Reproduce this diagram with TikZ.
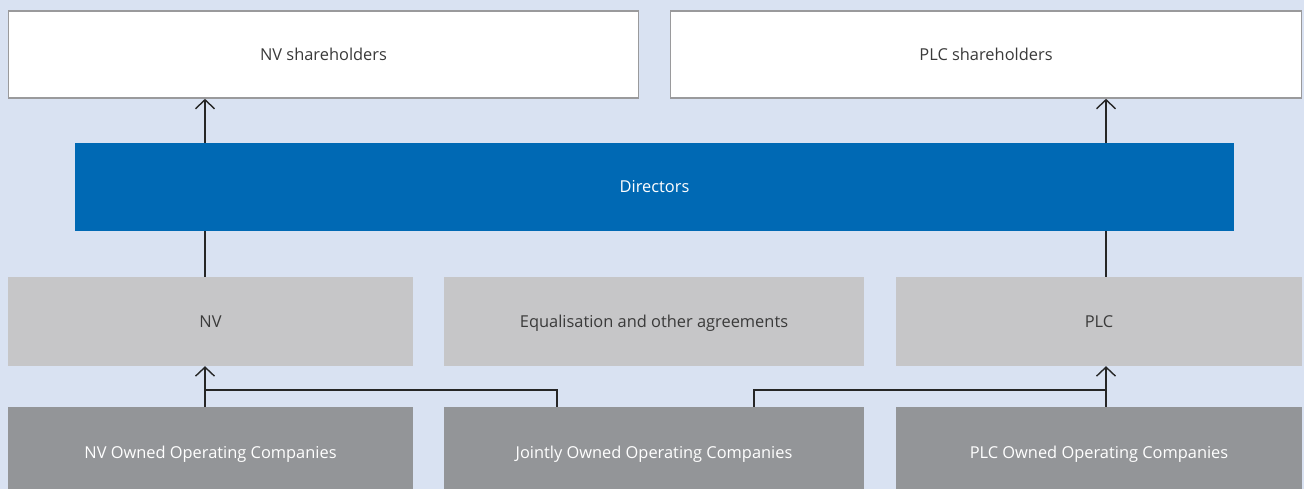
\documentclass[tikz,border=0pt]{standalone}
\usepackage{fontspec}
\setmainfont{Open Sans}
\usetikzlibrary{arrows.meta}
\definecolor{bgc}{HTML}{D9E2F2}
\definecolor{dirblue}{HTML}{0069B4}
\definecolor{midgray}{HTML}{C6C6C8}
\definecolor{darkgray}{HTML}{939598}
\definecolor{bordergray}{HTML}{9A9A9C}
\definecolor{txt}{HTML}{3A3A3A}
\tikzset{
  box/.style={minimum height=#1, inner sep=0pt, anchor=center, text height=11.7pt, text depth=0pt, font=\fontsize{16.4}{19}\selectfont},
  topbox/.style={box=87pt, fill=white, draw=bordergray, line width=1.6pt, text=txt},
  dirbox/.style={box=88pt, fill=dirblue, text=white},
  midbox/.style={box=89pt, fill=midgray, text=txt},
  lowbox/.style={box=92pt, fill=darkgray, text=white},
  conn/.style={line width=1.4pt, draw=black!85},
  arr/.style={conn, -{Straight Barb[length=9pt,width=19pt,line width=1.4pt]}}
}
\begin{document}
\begin{tikzpicture}[x=1pt,y=-1pt]
\fill[bgc] (0,0) rectangle (1304,489);
\useasboundingbox (0,0) rectangle (1304,489);
\node[topbox, minimum width=630pt] (nvsh) at (323.5,54.5) {NV shareholders};
\node[topbox, minimum width=631pt] (plcsh) at (986,54.5) {PLC shareholders};
\node[dirbox, minimum width=1159pt] (dir) at (654.5,187) {Directors};
\node[midbox, minimum width=405pt] (nv) at (210.5,321.5) {NV};
\node[midbox, minimum width=420pt] (eq) at (654,321.5) {Equalisation and other agreements};
\node[midbox, minimum width=406pt] (plc) at (1099,321.5) {PLC};
\node[lowbox, minimum width=405pt] (nvo) at (210.5,453) {NV Owned Operating Companies};
\node[lowbox, minimum width=420pt] (jo) at (654,453) {Jointly Owned Operating Companies};
\node[lowbox, minimum width=406pt] (plco) at (1099,453) {PLC Owned Operating Companies};
\coordinate (a1) at (205,0);
\coordinate (a2) at (1106,0);
\coordinate (j1) at (557,390);
\coordinate (j2) at (754,390);
\draw[arr] (dir.north -| a1) -- (nvsh.south -| a1);
\draw[arr] (dir.north -| a2) -- (plcsh.south -| a2);
\draw[conn] (nv.north -| a1) -- (dir.south -| a1);
\draw[conn] (plc.north -| a2) -- (dir.south -| a2);
\draw[arr] (nvo.north -| a1) -- (nv.south -| a1);
\draw[arr] (plco.north -| a2) -- (plc.south -| a2);
\draw[conn] (jo.north -| j1) |- (a1 |- j1);
\draw[conn] (jo.north -| j2) |- (a2 |- j2);
\end{tikzpicture}
\end{document}
